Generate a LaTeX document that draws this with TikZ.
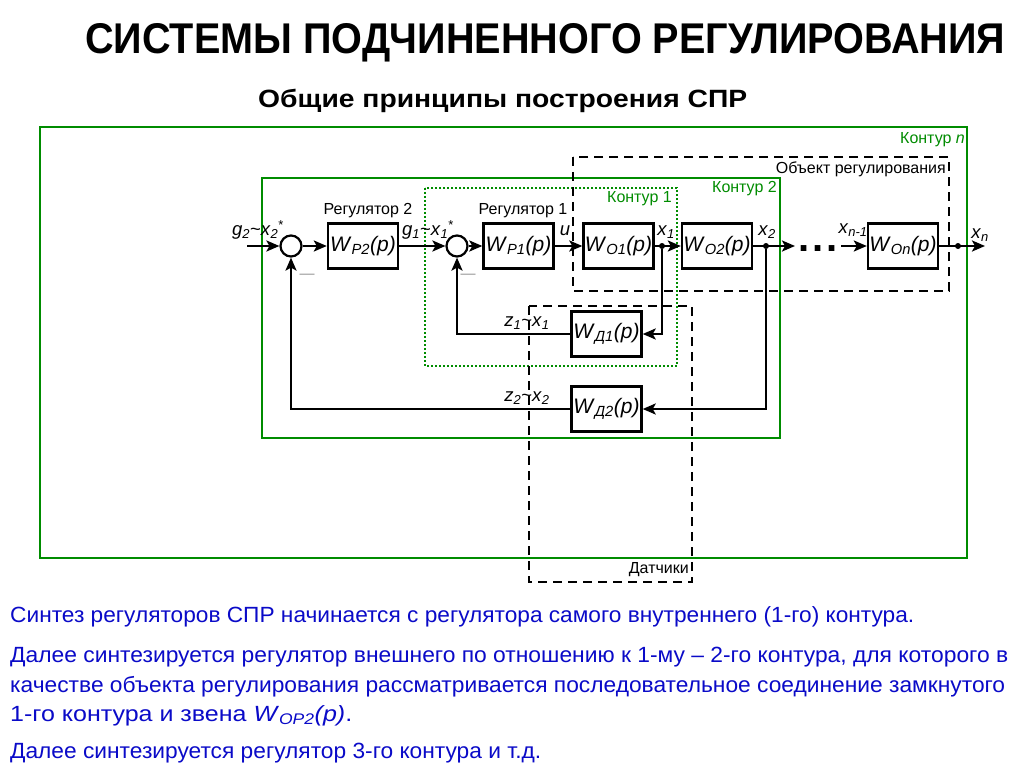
\documentclass[tikz,border=0pt]{standalone}
\usepackage{fontspec}
\setmainfont{Liberation Sans}
\usetikzlibrary{arrows.meta}
\definecolor{cgreen}{RGB}{0,140,0}
\definecolor{cblue}{RGB}{10,10,200}
\definecolor{cgray}{RGB}{150,150,150}
\newcommand\Wfn[1]{\textit{W}\textsubscript{\textit{#1}}\textit{(p)}}
\newcommand\sig[2]{\textit{#1}\textsubscript{\textit{#2}}}
\begin{document}
\begin{tikzpicture}[x=1pt,y=-1pt,
  blk/.style={draw, fill=white, line width=2.4pt, minimum width=70pt, minimum height=45pt, inner sep=0pt, font=\fontsize{21}{25}\selectfont},
  sum/.style={draw, fill=white, circle, line width=2.2pt, minimum size=21pt, inner sep=0pt},
  wire/.style={line width=2.4pt},
  arr/.style={wire, -{Stealth[length=13pt,width=11pt,inset=3pt]}},
  sigl/.style={font=\fontsize{18.5}{21}\selectfont, inner sep=0pt},
  regl/.style={font=\fontsize{16}{19}\selectfont, inner sep=0pt},
  cont/.style={draw=cgreen, line width=1.6pt},
  contdot/.style={draw=cgreen, line width=1.8pt, dash pattern=on 2pt off 2pt},
  lab/.style={font=\fontsize{16}{19}\selectfont, inner sep=0pt, anchor=east},
  dsh/.style={draw, line width=1.8pt, dash pattern=on 9pt off 6pt},
  jdot/.style={circle, fill, inner sep=0pt, minimum size=6pt},
  minus/.style={text=cgray, font=\fontsize{15}{18}\selectfont, inner sep=0pt},
  btext/.style={text=cblue, font=\fontsize{22}{26}\selectfont, inner sep=0pt, anchor=base west}
]
\useasboundingbox (0,0) rectangle (1024,767);
\fill[white] (0,0) rectangle (1024,767);

% titles
\node[anchor=base west, inner sep=0pt, font=\fontsize{43}{48}\selectfont\bfseries] (title) at (85,54)
  {\resizebox{920pt}{\height}{СИСТЕМЫ ПОДЧИНЕННОГО РЕГУЛИРОВАНИЯ}};
\node[anchor=base west, inner sep=0pt, font=\fontsize{25}{28}\selectfont\bfseries] (subtitle) at (258,108)
  {\resizebox{489pt}{\height}{Общие принципы построения СПР}};

% contours and groups
\draw[cont] (40,127) rectangle (967,558);
\node[lab, text=cgreen] (lcn) at (965,140) {Контур \textit{n}};
\draw[cont] (262,178) rectangle (780,438);
\node[lab, text=cgreen] (lc2) at (777,189) {Контур 2};
\draw[contdot] (425,188) rectangle (677,366);
\node[lab, text=cgreen] (lc1) at (672,199) {Контур 1};
\draw[dsh] (573,157) rectangle (949,291);
\node[lab] (lobj) at (946,169) {Объект регулирования};
\draw[dsh] (529,306) rectangle (692,582);
\node[lab] (lsens) at (689,570) {Датчики};

% blocks
\node[sum] (s1) at (291,246) {};
\node[blk] (wp2) at (363,246) {\Wfn{P2}};
\node[sum] (s2) at (457,246) {};
\node[blk] (wp1) at (518.5,246) {\Wfn{P1}};
\node[blk] (wo1) at (618.5,246) {\Wfn{O1}};
\node[blk] (wo2) at (717,246) {\Wfn{O2}};
\node[blk] (won) at (903,246) {\Wfn{On}};
\node[blk] (wd1) at (606.5,334) {\Wfn{Д1}};
\node[blk] (wd2) at (606.5,409) {\Wfn{Д2}};

\node[regl] (r2) at (368,211) {Регулятор 2};
\node[regl] (r1) at (523,211) {Регулятор 1};

% coordinates
\coordinate (gin) at (247,246);
\coordinate (x2e) at (795,246);
\coordinate (xns) at (841,246);
\coordinate (xout) at (985,246);
\node[jdot] (j1) at (662,246) {};
\node[jdot] (j2) at (766,246) {};
\node[jdot] (jn) at (958,246) {};

% wires
\draw[arr] (gin) -- (s1);
\draw[arr] (s1) -- (wp2);
\draw[arr] (wp2) -- (s2);
\draw[arr] (s2) -- (wp1);
\draw[arr] (wp1) -- (wo1);
\draw[arr] (wo1) -- (wo2);
\draw[arr] (wo2) -- (x2e);
\draw[arr] (xns) -- (won);
\draw[arr] (won) -- (xout);
\draw[arr] (j1) |- (wd1);
\draw[arr] (wd1) -| (s2);
\draw[arr] (j2) |- (wd2);
\draw[arr] (wd2) -| (s1);

\node[font=\fontsize{40}{40}\selectfont\bfseries, inner sep=0pt] (dots) at (818,249) {.\hspace{3pt}.\hspace{3pt}.};

% signal labels
\node[sigl] (lg2) at (258,230) {\sig{g}{2}\textasciitilde\sig{x}{2}\textsuperscript{*}};
\node[sigl] (lg1) at (428,230) {\sig{g}{1}\textasciitilde\sig{x}{1}\textsuperscript{*}};
\node[sigl] (lu) at (565,231) {\textit{u}};
\node[sigl] (lx1) at (666,232) {\sig{x}{1}};
\node[sigl] (lx2) at (767,232) {\sig{x}{2}};
\node[sigl] (lxn1) at (853,230) {\sig{x}{n-1}};
\node[sigl] (lxn) at (980,235) {\sig{x}{n}};
\node[sigl] (lz1) at (527,323) {\sig{z}{1}\textasciitilde\sig{x}{1}};
\node[sigl] (lz2) at (527,398) {\sig{z}{2}\textasciitilde\sig{x}{2}};
\node[minus] (m1) at (307,276) {—};
\node[minus] (m2) at (468,276) {—};

% bottom text
\node[btext] (t1) at (10,622) {\resizebox{904pt}{\height}{Синтез регуляторов СПР начинается с регулятора самого внутреннего (1-го) контура.}};
\node[btext] (t2) at (10,662) {\resizebox{998pt}{\height}{Далее синтезируется регулятор внешнего по отношению к 1-му – 2-го контура, для которого в}};
\node[btext] (t3) at (10,692) {\resizebox{995pt}{\height}{качестве объекта регулирования рассматривается последовательное соединение замкнутого}};
\node[btext] (t4) at (10,721) {\resizebox{342pt}{\height}{1-го контура и звена \textit{W}\textsubscript{\textit{OP2}}\textit{(p)}.}};
\node[btext] (t5) at (10,758) {\resizebox{531pt}{\height}{Далее синтезируется регулятор 3-го контура и т.д.}};
\end{tikzpicture}
\end{document}
